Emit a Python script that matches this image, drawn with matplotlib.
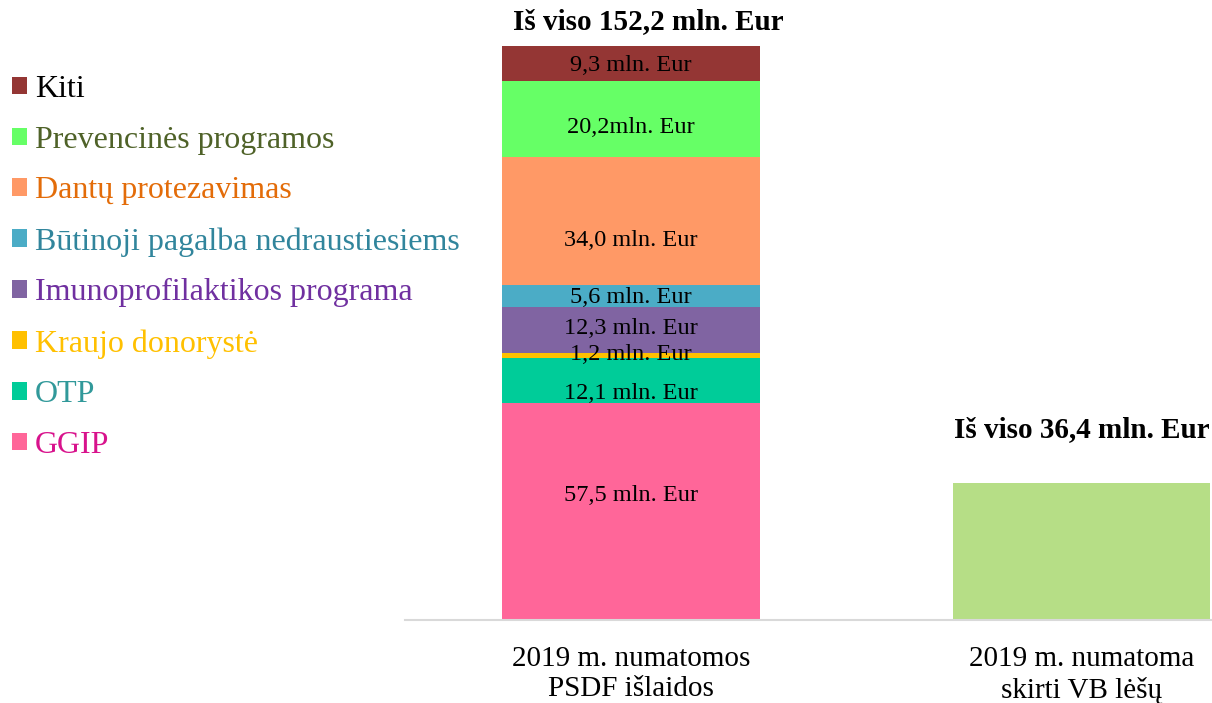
import matplotlib
matplotlib.use("Agg")
import matplotlib.pyplot as plt

plt.rcParams['font.family'] = ['Liberation Serif', 'DejaVu Serif']

categories = ["2019 m. numatomos\nPSDF išlaidos", "2019 m. numatoma\nskirti VB lėšų"]
segments = ["GGIP", "OTP", "Kraujo donorystė", "Imunoprofilaktikos programa",
            "Būtinoji pagalba nedraustiesiems", "Dantų protezavimas",
            "Prevencinės programos", "Kiti"]
values = [57.5, 12.1, 1.2, 12.3, 5.6, 34.0, 20.2, 9.3]
seg_labels = ["57,5 mln. Eur", "12,1 mln. Eur", "1,2 mln. Eur", "12,3 mln. Eur",
              "5,6 mln. Eur", "34,0 mln. Eur", "20,2mln. Eur", "9,3 mln. Eur"]
vb_value = 36.4
totals = ["Iš viso 152,2 mln. Eur", "Iš viso 36,4 mln. Eur"]

colors = ["#FF6699", "#00CC99", "#FFC000", "#8064A2", "#4BACC6", "#FF9966", "#66FF66", "#943634"]
text_colors = ["#D8128C", "#31999A", "#FFC000", "#7030A0", "#31859C", "#E36C09", "#4F6228", "#000000"]
vb_color = "#B6DE86"
label_offsets = [4.3, -3.5, 0.3, 0.3, -0.3, -5.0, -2.1, -0.5]

fig = plt.figure(figsize=(12.12, 7.03), dpi=100)
ax = fig.add_axes([405/1212, (703-620)/703, (1212-405)/1212, (620-20)/703])

width = 0.571
bottom = 0
handles = []
for v, c, lab, off in zip(values, colors, seg_labels, label_offsets):
    b = ax.bar(0, v, width, bottom=bottom, color=c, edgecolor='none')
    handles.append(b)
    ax.text(0, bottom + v / 2 + off, lab, ha='center', va='center', fontsize=17.5)
    bottom += v
ax.bar(1, vb_value, width, color=vb_color, edgecolor='none')

ax.text(0.038, bottom + 3.0, totals[0], ha='center', va='bottom', fontsize=21, fontweight='bold')
ax.text(1, vb_value + 10.4, totals[1], ha='center', va='bottom', fontsize=21, fontweight='bold')

ax.set_xlim(-0.502, 1.29)
ax.set_ylim(0, 152.2 * 600 / 574)
ax.set_xticks([0, 1])
ax.set_xticklabels(categories, fontsize=21, linespacing=1.2)
ax.tick_params(axis='x', length=0, pad=19)
ax.set_yticks([])
for s in ['top', 'right', 'left']:
    ax.spines[s].set_visible(False)
ax.spines['bottom'].set_color('#D9D9D9')
ax.spines['bottom'].set_linewidth(1.5)

leg = fig.legend(handles[::-1], segments[::-1], loc='upper left',
                 bbox_to_anchor=(0.0, 1 - 63/703), frameon=False,
                 fontsize=23, handlelength=0.47, handleheight=0.47,
                 handletextpad=0.25, labelspacing=0.68, borderpad=0.375,
                 labelcolor=text_colors[::-1], borderaxespad=0.0)

fig.savefig("out.png", dpi=100)
